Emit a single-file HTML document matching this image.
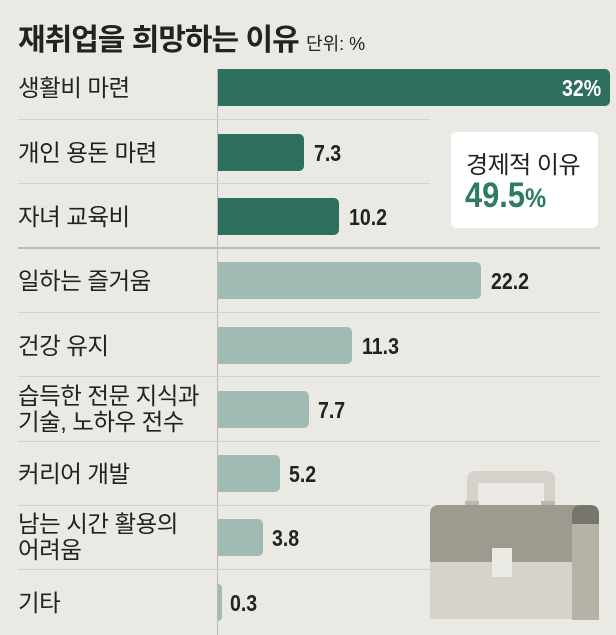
<!DOCTYPE html><html><head><meta charset="utf-8"><style>
body{margin:0;width:616px;height:635px;background:#ebe9e3;position:relative;overflow:hidden;font-family:"Liberation Sans","Noto Sans CJK KR",sans-serif;color:#222}
.a{position:absolute}
.lab{position:absolute;left:18px;font-size:23.5px;line-height:26px;color:#222;letter-spacing:-0.5px}
.bar{position:absolute;left:218px;height:37px;border-radius:0 5px 5px 0}
.d{background:#2e6e5f}.l{background:#a0bbb3}
.v{position:absolute;font-size:23px;font-weight:bold;font-family:"Liberation Sans Narrow","Liberation Sans",sans-serif;transform:scaleX(.85);transform-origin:left}
.sep{position:absolute;left:18px;height:1px;background:#d3d1ca}
</style></head><body>
<div class="a" style="left:18px;top:15px;font-size:30px;font-weight:bold;letter-spacing:-1px">재취업을 희망하는 이유 <span style="font-size:18px;font-weight:normal;letter-spacing:0">단위: %</span></div>
<div class="a" style="left:217px;top:69px;width:1px;height:566px;background:#bdbbb4"></div>
<div class="sep" style="top:119px;width:412px"></div>
<div class="sep" style="top:183px;width:412px"></div>
<div class="sep" style="top:247px;width:582px;height:2px;background:#bdbbb4"></div>
<div class="sep" style="top:312px;width:582px"></div>
<div class="sep" style="top:376px;width:582px"></div>
<div class="sep" style="top:441px;width:582px"></div>
<div class="sep" style="top:505px;width:412px"></div>
<div class="sep" style="top:569px;width:412px"></div>

<div class="lab" style="top:75px">생활비 마련</div>
<div class="bar d" style="top:69px;width:392px"></div>
<div class="v" style="left:562px;top:75px;color:#fff">32%</div>

<div class="lab" style="top:140px">개인 용돈 마련</div>
<div class="bar d" style="top:134px;width:86px"></div>
<div class="v" style="left:314px;top:140px">7.3</div>

<div class="lab" style="top:204px">자녀 교육비</div>
<div class="bar d" style="top:198px;width:121px"></div>
<div class="v" style="left:349px;top:204px">10.2</div>

<div class="lab" style="top:268px">일하는 즐거움</div>
<div class="bar l" style="top:262px;width:263px"></div>
<div class="v" style="left:491px;top:268px">22.2</div>

<div class="lab" style="top:333px">건강 유지</div>
<div class="bar l" style="top:327px;width:134px"></div>
<div class="v" style="left:362px;top:333px">11.3</div>

<div class="lab" style="top:383px">습득한 전문 지식과<br>기술, 노하우 전수</div>
<div class="bar l" style="top:391px;width:91px"></div>
<div class="v" style="left:318px;top:397px">7.7</div>

<div class="lab" style="top:461px">커리어 개발</div>
<div class="bar l" style="top:455px;width:62px"></div>
<div class="v" style="left:289px;top:461px">5.2</div>

<div class="lab" style="top:511px">남는 시간 활용의<br>어려움</div>
<div class="bar l" style="top:519px;width:45px"></div>
<div class="v" style="left:272px;top:525px">3.8</div>

<div class="lab" style="top:590px">기타</div>
<div class="bar l" style="top:584px;width:4px"></div>
<div class="v" style="left:230px;top:590px">0.3</div>

<div class="a" style="left:451px;top:132px;width:147px;height:96px;background:#fff;border-radius:6px"></div>
<div class="a" style="left:466px;top:145px;font-size:24px;letter-spacing:-0.5px">경제적 이유</div>
<div class="a" style="left:465px;top:176px;font-size:35px;font-weight:bold;color:#2e7a64;transform:scaleX(.88);transform-origin:left">49.5<span style="font-size:27px">%</span></div>

<svg class="a" style="left:0;top:0" width="616" height="635">
<path d="M467 505 V480 Q467 471 476 471 H546 Q555 471 555 480 V505 H544 V483 H478 V505Z" fill="#d4d2ca"/>
<rect x="465" y="501" width="14" height="5" fill="#b9b7ae"/><rect x="541" y="501" width="14" height="5" fill="#b9b7ae"/>
<path d="M430 562 V514 Q430 505 439 505 H590 Q599 505 599 514 V562Z" fill="#9d9b8f"/>
<rect x="430" y="562" width="169" height="57" fill="#d5d3cb"/>
<path d="M572 620 V514 Q572 505 582 505 H590 Q599 505 599 514 V620Z" fill="#b5b3a8"/>
<path d="M572 524 V514 Q572 505 582 505 H590 Q599 505 599 514 V524Z" fill="#77766c"/>
<rect x="492" y="548" width="20" height="29" fill="#eceae4"/>
</svg>
</body></html>
